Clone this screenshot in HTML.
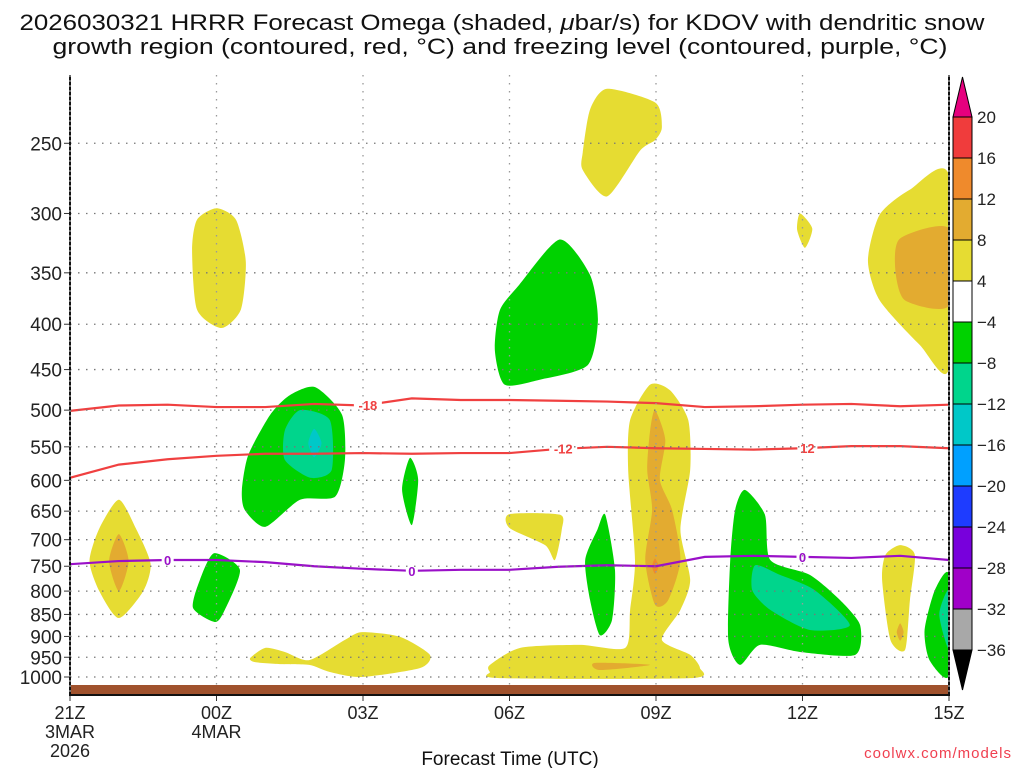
<!DOCTYPE html>
<html><head><meta charset="utf-8"><style>
body{margin:0;background:#fff;}
svg{display:block;font-family:"Liberation Sans",sans-serif;}
</style></head><body>
<svg id="chart" width="1024" height="768" viewBox="0 0 1024 768">
<text x="502" y="30" text-anchor="middle" font-size="22" textLength="965" lengthAdjust="spacingAndGlyphs" fill="#111">2026030321 HRRR Forecast Omega (shaded, <tspan font-style="italic">μ</tspan>bar/s) for KDOV with dendritic snow</text>
<text x="500" y="54" text-anchor="middle" font-size="22" textLength="895" lengthAdjust="spacingAndGlyphs" fill="#111">growth region (contoured, red, °C) and freezing level (contoured, purple, °C)</text>
<g id="plot"></g>
<text x="510" y="765" text-anchor="middle" font-size="19" fill="#111">Forecast Time (UTC)</text>
<text x="1012" y="758" text-anchor="end" font-size="15" fill="#f04050" letter-spacing="1">coolwx.com/models</text>
</svg>
<script>
const NS='http://www.w3.org/2000/svg';
const xTickHours=[0,3,6,9,12,15,18];
const xTickLabels=['21Z','00Z','03Z','06Z','09Z','12Z','15Z'];
const xSubLabels=[['3MAR','2026'],['4MAR'],[],[],[],[],[]];
const pTicks=[250,300,350,400,450,500,550,600,650,700,750,800,850,900,950,1000];
const cbLevels=[20,16,12,8,4,-4,-8,-12,-16,-20,-24,-28,-32,-36];
const cbColors=['#f03c3c','#ef8a2c','#e3ab30','#e6dc32','#ffffff','#00d200','#00d58c','#00c8c8','#00a0ff','#1e3cff','#7800dc','#a000c8','#a8a8a8'];
const lineHours=[0,1,2,3,4,5,6,7,8,9,10,11,12,13,14,15,16,17,18];
const t18P=[501,494,493,496,496,492,494,485,487,487,488,489,491,496,495,493,492,495,493];
const t12P=[596,576,568,563,560,560,559,560,559,559,553,550,552,553,554,552,549,549,552];
const t0P=[746,740,738,738,742,750,755,759,757,757,751,748,750,732,730,732,734,730,738];
// omega shaded regions: [color, [[hour, hPa], ...]]
const yellow='#e6dc32', orange='#e3ab30', green='#00d200', teal='#00d58c', cyan='#00c8c8', blue='#00a0ff', darkor='#ef8a2c';
const regions=[
 [yellow,[[1.0,631],[1.35,680],[1.65,745],[1.5,800],[1.0,858],[0.6,800],[0.4,740],[0.6,680]]],
 [orange,[[1.0,690],[1.2,740],[1.0,800],[0.8,740]]],
 [yellow,[[3.0,296],[3.4,305],[3.6,340],[3.5,385],[3.1,404],[2.6,385],[2.5,330],[2.6,305]]],
 [green,[[2.95,725],[3.48,757],[3.17,840],[2.97,867],[2.52,836],[2.66,777]]],
 [green,[[4.5,481],[5.02,471],[5.57,506],[5.63,569],[5.43,626],[4.71,631],[4.0,677],[3.58,648],[3.52,615],[3.65,562],[4.1,506]]],
 [teal,[[4.71,500],[5.32,513],[5.36,584],[4.92,596],[4.4,569],[4.4,527]]],
 [cyan,[[5.0,525],[5.15,545],[5.0,565],[4.88,545]]],
 [green,[[6.96,566],[7.13,599],[7.0,674],[6.8,615]]],
 [green,[[10.03,321],[10.65,352],[10.81,396],[10.6,445],[9.62,462],[8.9,468],[8.7,428],[8.8,386],[9.2,361]]],
 [yellow,[[11.0,217],[11.99,225],[12.12,240],[11.98,248],[11.67,255],[11.0,287],[10.5,268],[10.5,256],[10.65,229]]],
 [yellow,[[14.95,300],[15.2,312],[15.05,328],[14.89,313]]],
 [yellow,[[18,272],[17.2,282],[16.58,301],[16.34,339],[16.58,376],[17.4,422],[18,448]]],
 [orange,[[18,312],[17,320],[16.9,347],[17.1,376],[18,381]]],
 [yellow,[[3.69,952],[4.0,927],[4.4,937],[4.9,957],[5.63,908],[5.98,890],[6.76,901],[7.37,944],[7.17,977],[5.98,1000],[5.32,987],[4.9,969],[4.3,967],[3.79,962]]],
 [yellow,[[8.6,969],[9.22,927],[10.44,920],[11.37,927],[11.47,840],[11.57,738],[11.43,584],[11.47,513],[11.88,468],[12.29,475],[12.66,513],[12.7,584],[12.5,682],[12.7,777],[12.5,840],[12.12,908],[12.7,944],[12.9,977],[12.7,1003],[8.8,1003],[8.6,987]]],
 [orange,[[11.98,500],[12.19,540],[12.08,599],[12.33,648],[12.5,738],[12.25,819],[11.98,829],[11.78,738],[11.92,648],[11.82,584],[11.88,527]]],
 [darkor,[[11.98,735],[12.05,750],[11.98,765],[11.92,750]]],
 [orange,[[10.75,964],[11.88,969],[10.85,982]]],
 [yellow,[[9.0,655],[10.03,656],[10.07,682],[9.93,738],[9.73,710],[9.0,679]]],
 [green,[[10.96,656],[11.16,757],[11.1,862],[10.85,897],[10.65,819],[10.55,738],[10.8,682]]],
 [green,[[13.82,615],[14.23,656],[14.34,738],[15.15,767],[15.77,819],[16.18,874],[16.08,944],[14.95,937],[14.13,920],[13.72,969],[13.48,908],[13.52,738],[13.62,648]]],
 [teal,[[14.03,748],[14.54,767],[15.25,798],[15.97,874],[15.15,885],[14.34,840],[13.97,798]]],
 [yellow,[[17,710],[17.3,728],[17.2,819],[17.1,932],[16.8,908],[16.63,777],[16.7,728]]],
 [orange,[[17.0,870],[17.07,890],[17.0,910],[16.93,890]]],
 [green,[[18,767],[17.71,798],[17.5,885],[17.6,957],[18,995]]],
 [teal,[[18,798],[17.8,850],[18,930]]]
];
const X0=70,X1=949,Ytop=75,Ybot=695;
const xs=h=>X0+h*(X1-X0)/18;
const ys=p=>677-385*Math.log(1000/p);
const plot=document.getElementById('plot');
const root=document.getElementById('chart');
function mk(tag,attrs,parent){const e=document.createElementNS(NS,tag);for(const k in attrs)e.setAttribute(k,attrs[k]);(parent||plot).appendChild(e);return e;}
function smoothPath(pts){
 const n=pts.length,k=0.12;let d='M'+pts[0][0]+' '+pts[0][1];
 for(let i=0;i<n;i++){
  const p0=pts[(i-1+n)%n],p1=pts[i],p2=pts[(i+1)%n],p3=pts[(i+2)%n];
  const c1=[p1[0]+(p2[0]-p0[0])*k,p1[1]+(p2[1]-p0[1])*k];
  const c2=[p2[0]-(p3[0]-p1[0])*k,p2[1]-(p3[1]-p1[1])*k];
  d+=`C${c1[0]} ${c1[1]} ${c2[0]} ${c2[1]} ${p2[0]} ${p2[1]}`;
 }
 return d+'Z';
}
const clip=mk('clipPath',{id:'pc'},root);mk('rect',{x:X0,y:Ytop,width:X1-X0,height:Ybot-Ytop},clip);
const g=mk('g',{'clip-path':'url(#pc)'});
regions.forEach((r,i)=>{
 const e=mk('path',{d:smoothPath(r[1].map(q=>[xs(q[0]),ys(q[1])])),fill:r[0]},g);
 
 
});
// grid
pTicks.forEach(p=>{
 const e=mk('line',{x1:X0,x2:X1,y1:ys(p),y2:ys(p),stroke:'#777','stroke-width':1.3,'stroke-dasharray':'1.5 6.5'});
 
 
 const t=mk('text',{x:62,y:ys(p)+7,'text-anchor':'end','font-size':19,fill:'#222'});
 t.textContent=p;
 
 
 mk('line',{x1:X0-6,x2:X0,y1:ys(p),y2:ys(p),stroke:'#333','stroke-width':1});
});
xTickHours.forEach((h,i)=>{
 if(i>0&&i<6){const e=mk('line',{x1:xs(h),x2:xs(h),y1:Ytop,y2:Ybot,stroke:'#999','stroke-width':1.3,'stroke-dasharray':'1.5 6.5'});
 
 }
 mk('line',{x1:xs(h),x2:xs(h),y1:Ybot,y2:Ybot+6,stroke:'#333','stroke-width':1});
 const lines=[xTickLabels[i]].concat(xSubLabels[i]);
 lines.forEach((s,j)=>{const t=mk('text',{x:xs(h),y:719+j*19,'text-anchor':'middle','font-size':18,fill:'#222'});t.textContent=s;
 
 });
});
// ground
const gr=mk('rect',{x:X0,y:685,width:X1-X0,height:10,fill:'#a0522d'});


// contour lines
function cline(ps,color,name,labels){
 const e=mk('polyline',{points:lineHours.map((h,i)=>xs(h)+','+ys(ps[i])).join(' '),fill:'none',stroke:color,'stroke-width':2.2},g);
 
 
 labels.forEach(l=>{
  const h=l[0];const i=Math.floor(h);const f=h-i;const p=ps[i]+(ps[Math.min(i+1,18)]-ps[i])*f;
  const yy=ys(p);const w=l[1].length*8+4;
  mk('rect',{x:xs(h)-w/2,y:yy-7,width:w,height:14,fill:'#fff'},g);
  const t=mk('text',{x:xs(h),y:yy+5,'text-anchor':'middle','font-size':13,'font-weight':'bold',fill:color},g);t.textContent=l[1];
  
  
 });
}
cline(t18P,'#f04040','dgz-minus18-contour',[[6.1,'-18']]);
cline(t12P,'#f04040','dgz-minus12-contour',[[10.1,'-12'],[15.1,'12']]);
cline(t0P,'#9a10c8','freezing-level-contour',[[2.0,'0'],[7.0,'0'],[15.0,'0']]);
// frame
const fr=mk('path',{d:`M${X0} ${Ytop}V${Ybot}H${X1}V${Ytop}`,fill:'none',stroke:'#111','stroke-width':2});


mk('line',{x1:X0,x2:X0,y1:Ytop,y2:Ybot,stroke:'#fff','stroke-width':0.8,'stroke-dasharray':'2 3'});
mk('line',{x1:X1,x2:X1,y1:Ytop,y2:Ybot,stroke:'#fff','stroke-width':0.8,'stroke-dasharray':'2 3'});
// colorbar
const cbX=953,cbW=19,cbTop=117,cbBot=650;
const step=(cbBot-cbTop)/cbColors.length;
const cb=mk('g',{},root);


mk('polygon',{points:`${cbX},${cbTop} ${cbX+cbW/2},${cbTop-40} ${cbX+cbW},${cbTop}`,fill:'#e6007e',stroke:'#000'},cb);
mk('polygon',{points:`${cbX},${cbBot} ${cbX+cbW/2},${cbBot+40} ${cbX+cbW},${cbBot}`,fill:'#000',stroke:'#000'},cb);
cbColors.forEach((c,i)=>{const r=mk('rect',{x:cbX,y:cbTop+i*step,width:cbW,height:step,fill:c,stroke:'#000','stroke-width':1},cb);
 
 });
cbLevels.forEach((v,i)=>{const t=mk('text',{x:977,y:cbTop+i*step+6,'font-size':17,fill:'#222'},cb);
 t.textContent=(v<0?'\u2212':'')+Math.abs(v);
 
 });
</script>
</body></html>
